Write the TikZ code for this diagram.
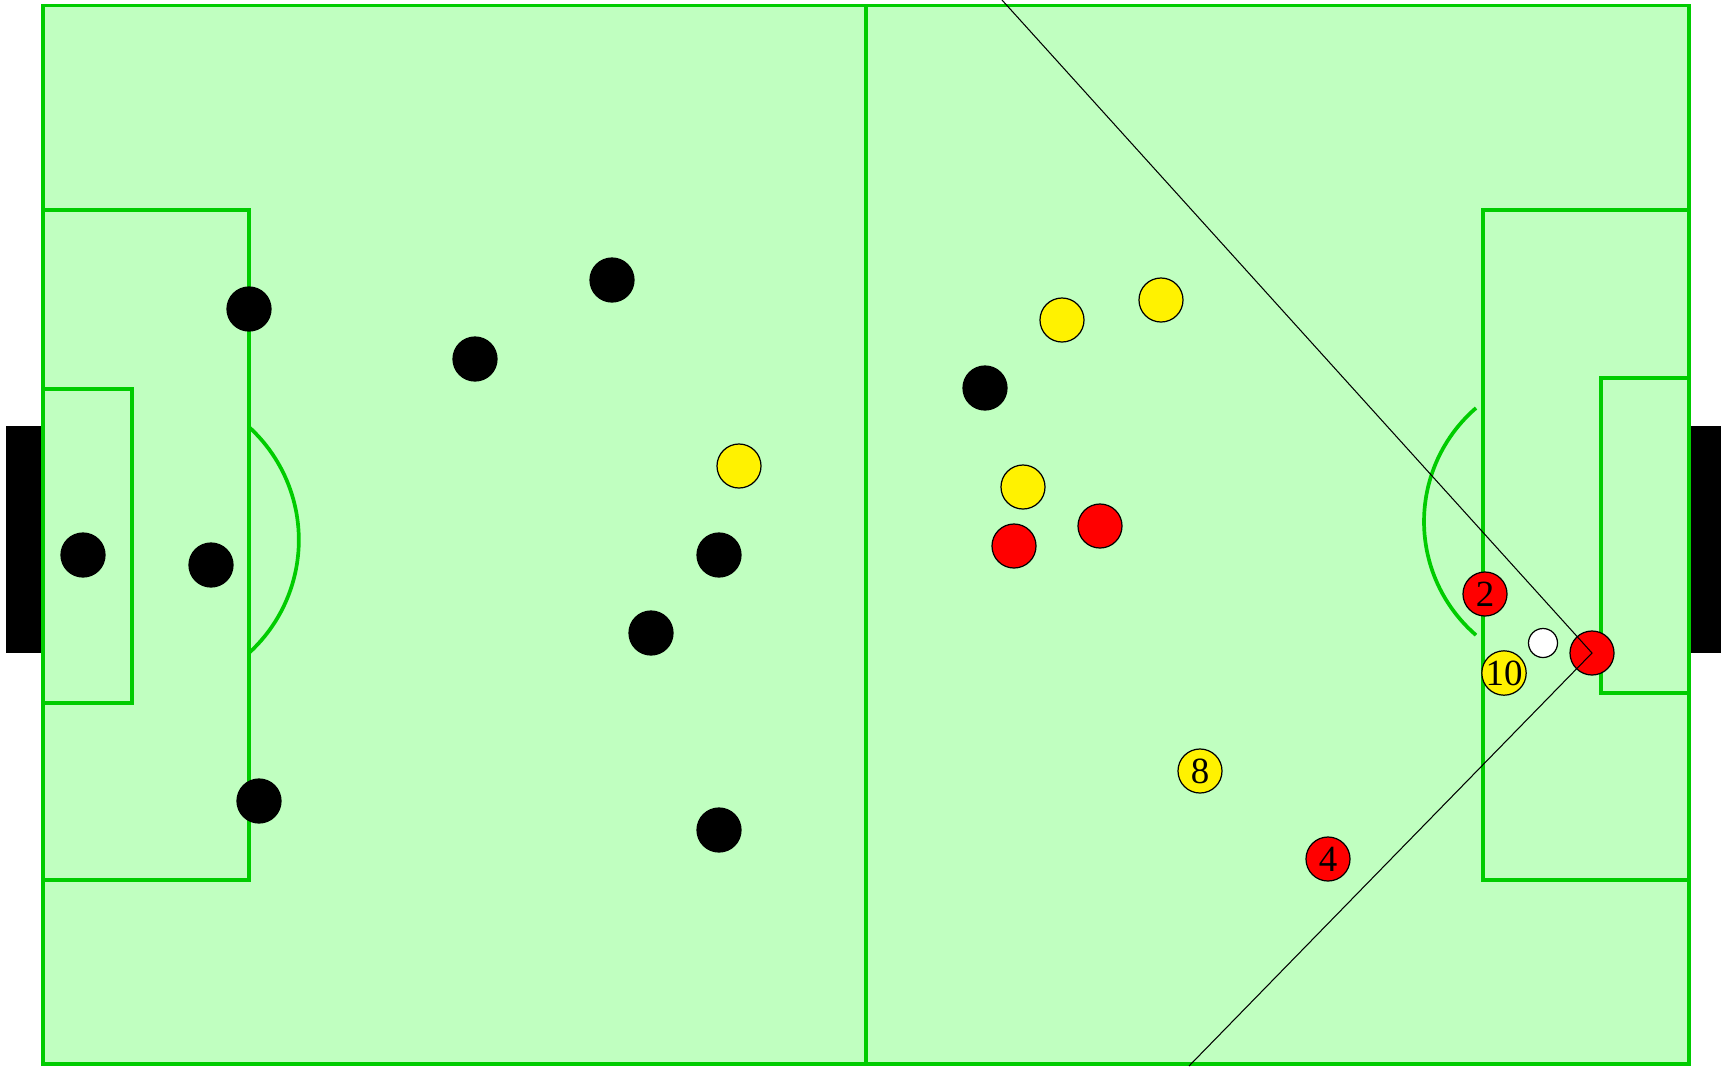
\documentclass[tikz,border=0pt]{standalone}
\usepackage{fontspec}
\setmainfont{Liberation Serif}
\usepackage{tikz}
\usetikzlibrary{calc}

\definecolor{pitchgreen}{RGB}{192,255,192}
\definecolor{linegreen}{RGB}{0,204,0}

\begin{document}
\begin{tikzpicture}[
  x=0.01cm, y=-0.01cm,
  font=\fontsize{10.5}{11}\selectfont,
  pitchline/.style={draw=linegreen, line width=1.05pt},
  goalbox/.style={fill=black},
  player/.style={
    circle,
    draw=black,
    line width=0.35pt,
    minimum size=0.44cm,
    inner sep=0pt
  },
  blackpl/.style={player, fill=black},
  yellowpl/.style={player, fill=yellow},
  redpl/.style={player, fill=red},
  ballpl/.style={player, fill=white, minimum size=0.29cm},
  ray/.style={draw=black, line width=0.3pt}
]
  \useasboundingbox (0,0) rectangle (1727,1066);

  % pitch and goals
  \fill[pitchgreen] (43,5.5) rectangle (1689,1064);
  \fill[goalbox] (6,426) rectangle (45,653);
  \fill[goalbox] (1689,426) rectangle (1721,653);

  % markings
  \draw[pitchline] (43,5.5) rectangle (1689,1064);
  \draw[pitchline] (866,5.5) -- (866,1064);
  \draw[pitchline] (43,210) rectangle (249,880);
  \draw[pitchline] (43,389) rectangle (132,703);
  \draw[pitchline] (1483,210) rectangle (1689,880);
  \draw[pitchline] (1601,378) rectangle (1689,693);
  \draw[pitchline] (249,427) arc[start angle=-47.6, end angle=47.6, radius=153];
  \draw[pitchline] (1476,408) arc[start angle=229.2, end angle=130.8, radius=150];

  % black team
  \node[blackpl] (bk1)  at (83,555)  {};
  \node[blackpl] (bk2)  at (211,565) {};
  \node[blackpl] (bk3)  at (249,309) {};
  \node[blackpl] (bk4)  at (259,801) {};
  \node[blackpl] (bk5)  at (475,359) {};
  \node[blackpl] (bk6)  at (612,280) {};
  \node[blackpl] (bk7)  at (719,555) {};
  \node[blackpl] (bk8)  at (651,633) {};
  \node[blackpl] (bk9)  at (719,830) {};
  \node[blackpl] (bk10) at (985,388) {};

  % yellow team
  \node[yellowpl] (yl1)  at (739,466)  {};
  \node[yellowpl] (yl2)  at (1062,320) {};
  \node[yellowpl] (yl3)  at (1161,300) {};
  \node[yellowpl] (yl4)  at (1023,487) {};
  \node[yellowpl] (yl8)  at (1200,771) {8};
  \node[yellowpl] (yl10) at (1504,673) {10};

  % red team
  \node[redpl] (rd1) at (1014,546) {};
  \node[redpl] (rd3) at (1100,526) {};
  \node[redpl] (rd2) at (1485,594) {2};
  \node[redpl] (rd4) at (1328,859) {4};
  \node[redpl] (rdk) at (1592,653) {};

  \node[ballpl] (ball) at (1543,643) {};

  % view cone
  \coordinate (conetop) at (1002,0);
  \coordinate (conebot) at (1189,1066);
  \draw[ray] (conetop) -- (rdk.center) -- (conebot);
\end{tikzpicture}
\end{document}
